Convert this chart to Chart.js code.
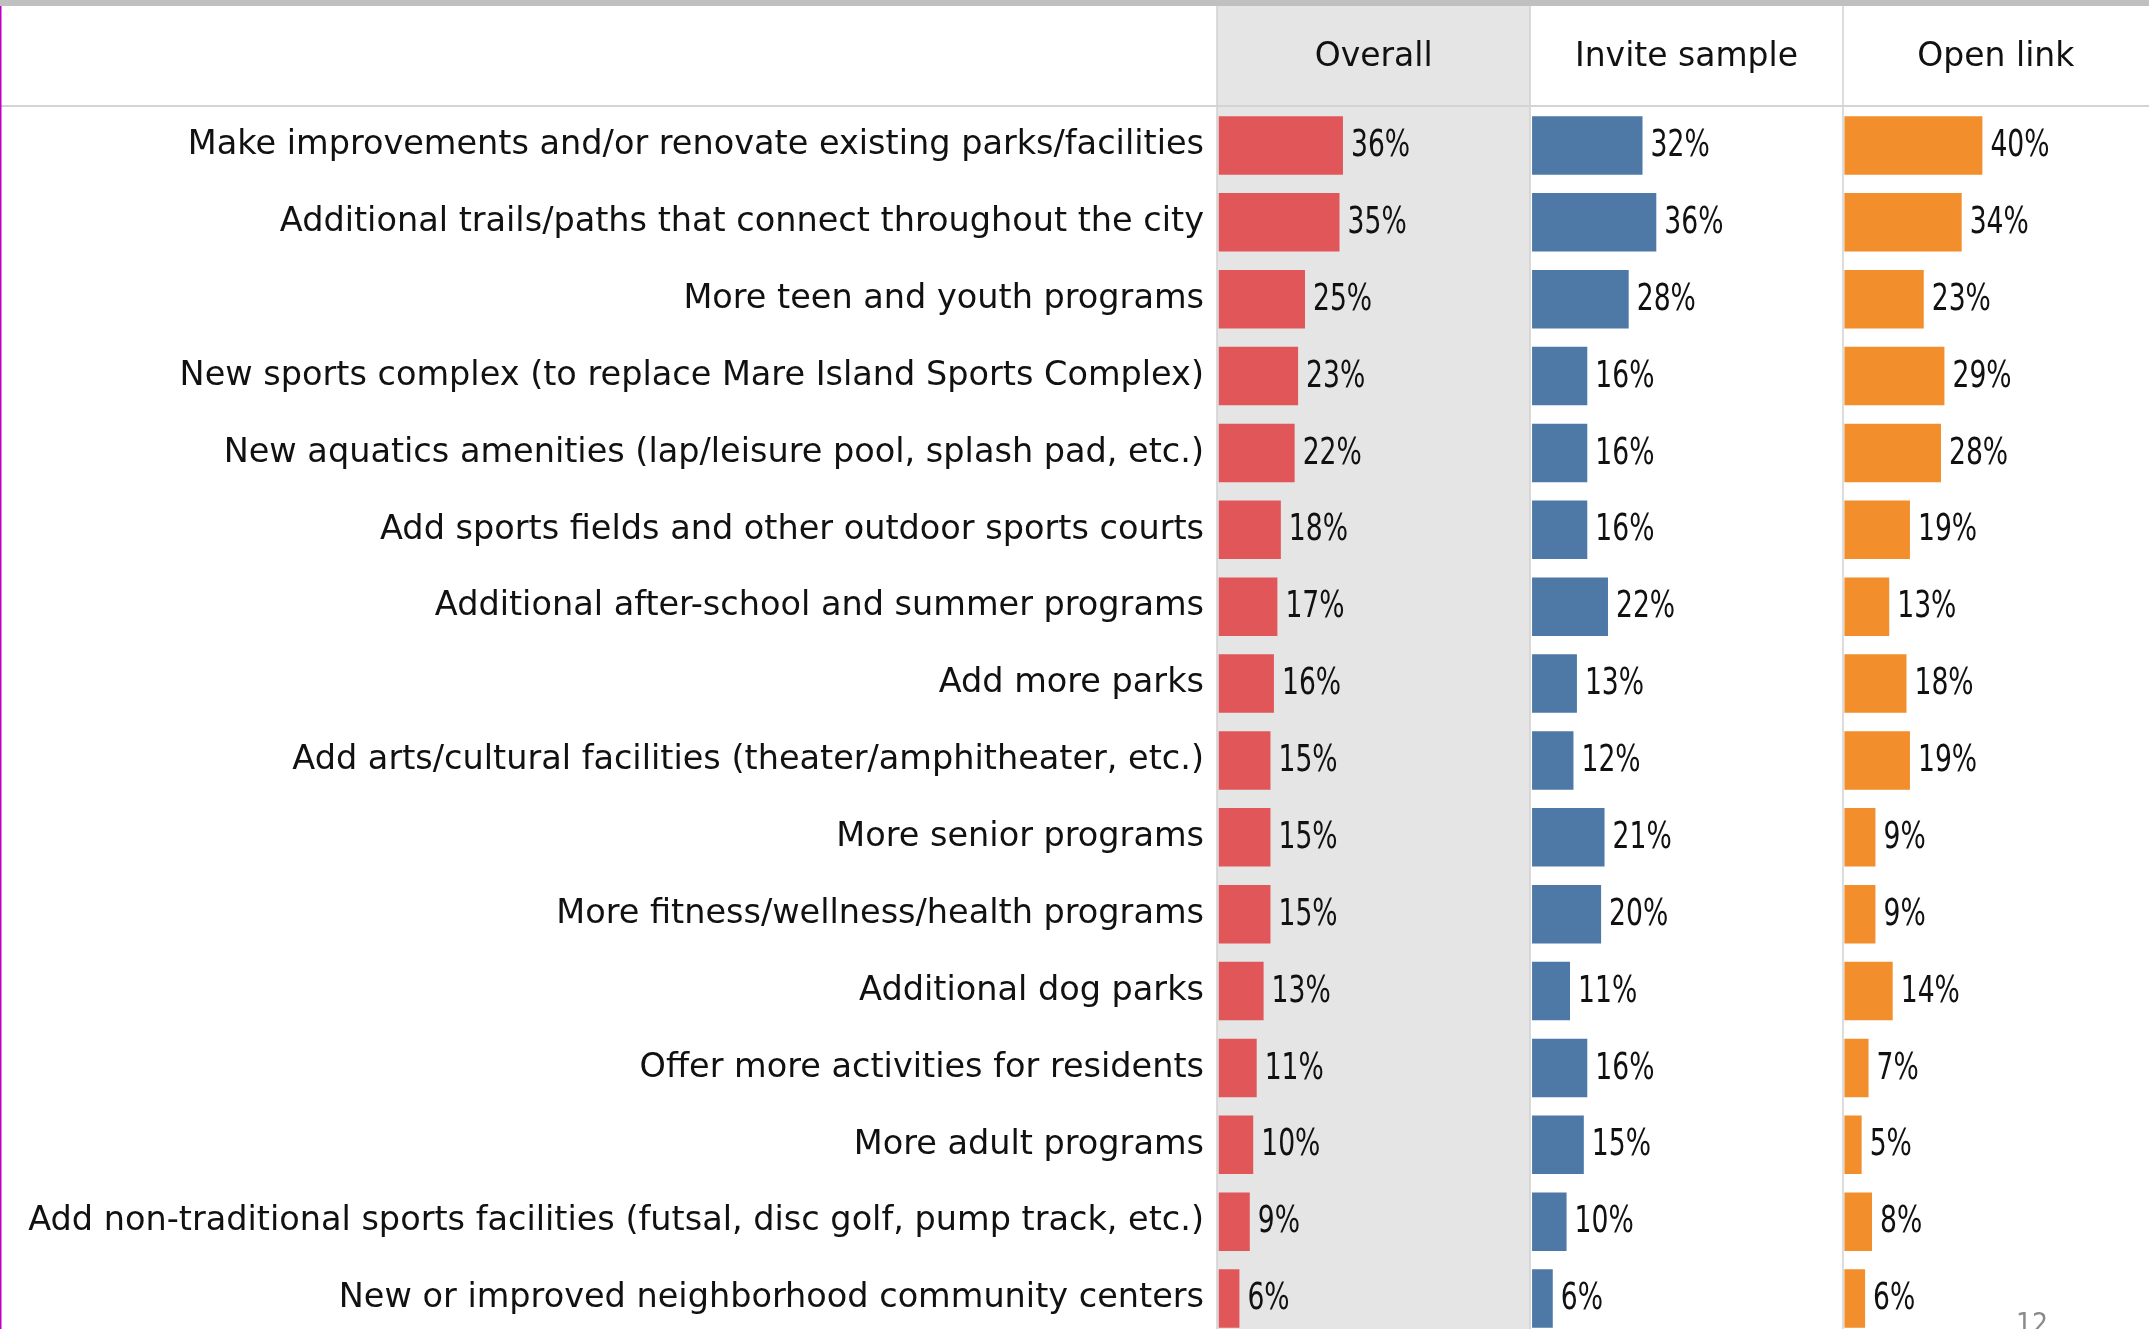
<!DOCTYPE html>
<html>
<head>
<meta charset="utf-8">
<script src="https://cdn.jsdelivr.net/npm/chart.js@4.4.1/dist/chart.umd.min.js"></script>
<style>
  html, body { margin: 0; padding: 0; background: #fff; overflow: hidden; }
  #wrap { width: 2149px; height: 1329px; overflow: hidden; }
  canvas { display: block; }
</style>
</head>
<body>
<div id="wrap"><canvas id="chart" width="2149" height="1337"></canvas></div>
<script>
const categories = [
    'Make improvements and/or renovate existing parks/facilities',
    'Additional trails/paths that connect throughout the city',
    'More teen and youth programs',
    'New sports complex (to replace Mare Island Sports Complex)',
    'New aquatics amenities (lap/leisure pool, splash pad, etc.)',
    'Add sports fields and other outdoor sports courts',
    'Additional after-school and summer programs',
    'Add more parks',
    'Add arts/cultural facilities (theater/amphitheater, etc.)',
    'More senior programs',
    'More fitness/wellness/health programs',
    'Additional dog parks',
    'Offer more activities for residents',
    'More adult programs',
    'Add non-traditional sports facilities (futsal, disc golf, pump track, etc.)',
    'New or improved neighborhood community centers'
];
const overall      = [36, 35, 25, 23, 22, 18, 17, 16, 15, 15, 15, 13, 11, 10, 9, 6];
const inviteSample = [32, 36, 28, 16, 16, 16, 22, 13, 12, 21, 20, 11, 16, 15, 10, 6];
const openLink     = [40, 34, 23, 29, 28, 19, 13, 18, 19, 9, 9, 14, 7, 5, 8, 6];
const columnTitles = ['Overall', 'Invite sample', 'Open link'];
const pageNumber = '12';

const labelFont = { family: '"DejaVu Sans", sans-serif', size: 33.5 };
const headerFont = { family: '"DejaVu Sans", sans-serif', size: 33 };
const valueFont = '37px "DejaVu Sans Condensed", "DejaVu Sans", sans-serif';

// one top axis per column, stacked side by side (higher weight = placed first)
function columnAxis(title, order, weight, max) {
    return {
        type: 'linear',
        position: 'top',
        stack: 'cols',
        stackWeight: weight,
        weight: order,
        min: -0.5,
        max: max,
        grid: { display: false },
        border: { display: false },
        ticks: { display: false },
        title: {
            display: true,
            text: title,
            color: '#111',
            font: headerFont,
            padding: { top: 32, bottom: 0 }
        },
        afterFit: (scale) => { scale.height = 101; }
    };
}

const backdrop = {
    id: 'backdrop',
    beforeDraw(chart) {
        const { ctx, width, height, scales } = chart;
        const top = chart.chartArea.top;
        ctx.save();
        ctx.fillStyle = '#fff';
        ctx.fillRect(0, 0, width, height);
        // Overall column shading
        ctx.fillStyle = '#e5e5e5';
        ctx.fillRect(scales.x0.left, 6, scales.x0.right - scales.x0.left, height);
        // top band
        ctx.fillStyle = '#c0c0c0';
        ctx.fillRect(0, 0, width, 6);
        // column separators
        ctx.strokeStyle = '#d0d0d0';
        ctx.lineWidth = 1.5;
        ['x0', 'x1', 'x2'].forEach(id => {
            const x = Math.round(scales[id].left);
            ctx.beginPath();
            ctx.moveTo(x, 6);
            ctx.lineTo(x, height);
            ctx.stroke();
        });
        // header rule
        ctx.strokeStyle = '#d4d4d4';
        ctx.lineWidth = 2;
        ctx.beginPath();
        ctx.moveTo(0, top - 1);
        ctx.lineTo(width, top - 1);
        ctx.stroke();
        // left edge line
        ctx.strokeStyle = '#c000c8';
        ctx.lineWidth = 1.5;
        ctx.beginPath();
        ctx.moveTo(0.75, 6);
        ctx.lineTo(0.75, height);
        ctx.stroke();
        ctx.restore();
    },
    afterDatasetsDraw(chart) {
        const { ctx } = chart;
        chart.data.datasets.forEach((ds, i) => {
            chart.getDatasetMeta(i).data.forEach((bar, j) => {
                ctx.save();
                ctx.font = valueFont;
                ctx.fillStyle = '#111';
                ctx.textAlign = 'left';
                ctx.textBaseline = 'middle';
                // narrow figures, as in the original slide
                ctx.translate(bar.x + 8, bar.y + 1);
                ctx.scale(0.8, 1);
                ctx.fillText(ds.data[j] + '%', 0, 0);
                ctx.restore();
            });
        });
    },
    afterDraw(chart) {
        const { ctx } = chart;
        ctx.save();
        ctx.font = '28px "DejaVu Sans Condensed", sans-serif';
        ctx.fillStyle = '#8a8a8a';
        ctx.textAlign = 'left';
        ctx.textBaseline = 'alphabetic';
        ctx.fillText(pageNumber, 2016, 1333);
        ctx.restore();
    }
};

const ctx = document.getElementById('chart').getContext('2d');
new Chart(ctx, {
    type: 'bar',
    data: {
        labels: categories,
        datasets: [
            { label: columnTitles[0], data: overall, xAxisID: 'x0', backgroundColor: '#e15759' },
            { label: columnTitles[1], data: inviteSample, xAxisID: 'x1', backgroundColor: '#4e79a7' },
            { label: columnTitles[2], data: openLink, xAxisID: 'x2', backgroundColor: '#f28e2b' }
        ]
    },
    options: {
        indexAxis: 'y',
        responsive: false,
        animation: false,
        devicePixelRatio: 1,
        layout: { padding: { top: 6, left: 0, right: 0, bottom: 0 } },
        datasets: {
            bar: { grouped: false, categoryPercentage: 1, barPercentage: 0.76, borderWidth: 0 }
        },
        plugins: {
            legend: { display: false },
            tooltip: { enabled: false }
        },
        scales: {
            y: {
                type: 'category',
                position: 'left',
                offset: true,
                grid: { display: false, drawTicks: false },
                border: { display: false },
                ticks: { color: '#111', font: labelFont, padding: 13, autoSkip: false },
                afterFit: (scale) => {
                    scale.width = 1217;
                    // rows are offset, no room needed for label overhang
                    scale.paddingTop = 0;
                    scale.paddingBottom = 0;
                }
            },
            x0: columnAxis(columnTitles[0], 3, 313, 90.3),
            x1: columnAxis(columnTitles[1], 2, 312, 90.0),
            x2: columnAxis(columnTitles[2], 1, 306, 88.3)
        }
    },
    plugins: [backdrop]
});
</script>
</body>
</html>
